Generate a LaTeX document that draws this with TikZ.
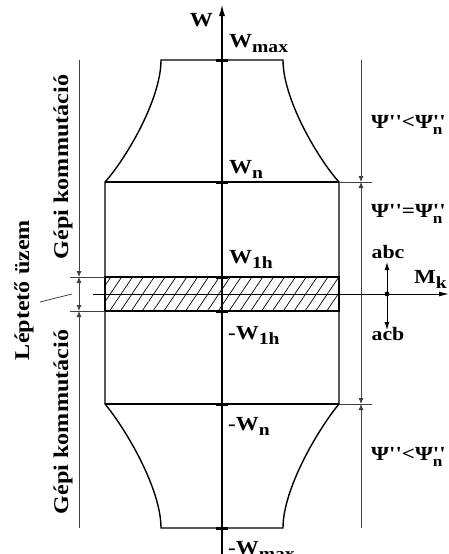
\documentclass[tikz,border=0pt]{standalone}
\usepackage{fontspec}
\setmainfont{Liberation Serif}[Ligatures=TeXOff,FakeStretch=1.15]
\usetikzlibrary{arrows.meta,patterns.meta}
\newcommand{\lowsub}[1]{\raisebox{-0.25em}{\scalebox{0.85}{#1}}}
\newcommand{\psin}{Ψ\rlap{''}\raisebox{-0.3em}{\scalebox{0.75}{n}}}
\tikzset{Dim/.tip={Latex[length=6pt,width=5pt]}}

\begin{document}
\begin{tikzpicture}[x=1pt,y=-1pt,
  lbl/.style={font=\fontsize{20}{20}\selectfont\bfseries,inner sep=0pt},
  psi/.style={font=\fontsize{20}{20}\selectfont\bfseries,inner sep=0pt,anchor=base west},
  side/.style={font=\fontsize{21}{21}\selectfont\bfseries,inner sep=0pt,rotate=90},
  fine/.style={line width=0.8pt,black!75},
  rim/.style={line width=1.4pt},
  axmark/.style={line width=3pt}]

\useasboundingbox (0,0) rectangle (449,554);

\coordinate (t1) at (161,60);
\coordinate (t2) at (283,60);
\coordinate (c1) at (105,182);
\coordinate (c2) at (339,182);
\coordinate (c3) at (339,404);
\coordinate (c4) at (105,404);
\coordinate (b1) at (161,528);
\coordinate (b2) at (283,528);
\coordinate (wnr) at (372,182);
\coordinate (mwnr) at (372,404);

\coordinate (h1) at (105,277);
\coordinate (h2) at (339,311);
\coordinate (h3) at (105,311);
\coordinate (h1l) at (70,277);
\coordinate (h3l) at (70,311);

\coordinate (mk0) at (93,294);
\coordinate (mk1) at (449,294);
\coordinate (ax0) at (222,554);
\coordinate (ax1) at (222,4);

\coordinate (r0) at (361,60);
\coordinate (r1) at (361,182);
\coordinate (r2) at (361,404);
\coordinate (r3) at (361,528);
\coordinate (l0) at (79,60);
\coordinate (l1) at (79,277);
\coordinate (l2) at (79,311);
\coordinate (l3) at (79,528);

\coordinate (dot) at (387,294);
\coordinate (up) at (387,262);
\coordinate (dn) at (387,330);
\coordinate (ld0) at (40,302);
\coordinate (ld1) at (72,294);

\draw[rim,pattern={Lines[angle=56,distance=9pt,line width=0.7pt]}] (h1) rectangle (h2);

\draw[rim] (t1) -- (t2) .. controls (283,100) and (319,160) .. (c2) -- (c3)
  .. controls (319,428) and (283,488) .. (b2) -- (b1)
  .. controls (161,488) and (125,428) .. (c4) -- (c1)
  .. controls (125,160) and (161,100) .. cycle;
\draw[rim] (c1) -- (c2);
\draw[rim] (c4) -- (c3);
\draw[fine] (c2) -- (wnr);
\draw[fine] (c3) -- (mwnr);
\draw[fine] (h1l) -- (h1);
\draw[fine] (h3l) -- (h3);

\draw[fine,-Dim] (r0) -- (r1);
\draw[fine,Dim-Dim] (r1) -- (r2);
\draw[fine,Dim-] (r2) -- (r3);
\draw[fine,-Dim] (l0) -- (l1);
\draw[fine,Dim-Dim] (l1) -- (l2);
\draw[fine,Dim-] (l2) -- (l3);

\draw[line width=1pt,-{Latex[length=10pt,width=5pt]}] (mk0) -- (mk1);
\draw[line width=1.6pt,-{Latex[length=12pt,width=6pt]}] (ax0) -- (ax1);
\foreach \y in {60,182,277,311,404,528}
  \draw[axmark] (216,\y) -- (228,\y);

\fill (dot) circle (2.4);
\draw[line width=1pt,-{Latex[length=8pt,width=5pt]}] (dot) -- (up);
\draw[line width=1pt,-{Latex[length=8pt,width=5pt]}] (dot) -- (dn);
\draw[fine] (ld0) -- (ld1);

\node[lbl,anchor=base east] (w) at (213,27) {W};
\node[lbl,anchor=base west] (wmax) at (229,47) {W\lowsub{max}};
\node[lbl,anchor=base west] (wn) at (229,173) {W\lowsub{n}};
\node[lbl,anchor=base west] (w1h) at (229,263) {W\lowsub{1h}};
\node[lbl,anchor=base west] (mw1h) at (228,339) {-W\lowsub{1h}};
\node[lbl,anchor=base west] (mwn) at (228,430) {-W\lowsub{n}};
\node[lbl,anchor=base west] (mwmax) at (228,554) {-W\lowsub{max}};

\node[psi] (psitop) at (371,128) {Ψ''<\psin};
\node[psi] (psimid) at (371,217) {Ψ''=\psin};
\node[psi] (psibot) at (371,460) {Ψ''<\psin};

\node[lbl,font=\fontsize{19}{19}\selectfont\bfseries] (abc) at (388,252) {abc};
\node[lbl,font=\fontsize{19}{19}\selectfont\bfseries] (acb) at (388,334) {acb};
\node[lbl,anchor=base west] (mk) at (414,283) {M\lowsub{k}};

\node[side] (gtop) at (63,167) {Gépi kommutáció};
\node[side] (gbot) at (63,422) {Gépi kommutáció};
\node[side] (lep) at (24,290) {Léptető üzem};

\end{tikzpicture}
\end{document}
